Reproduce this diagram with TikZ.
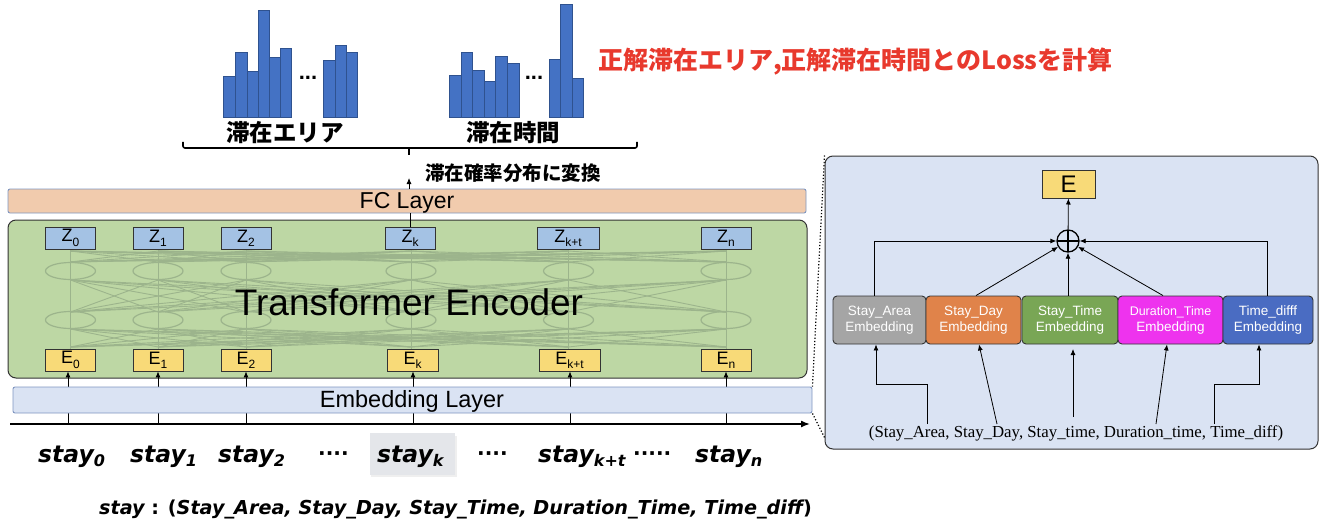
\documentclass[tikz,border=0pt]{standalone}
\usepackage{fontspec}
\setmainfont{Liberation Sans}
\newfontfamily\jpf{Noto Sans CJK JP}
\newfontfamily\dvf{DejaVu Sans}
\newfontfamily\serf{Liberation Serif}
\usetikzlibrary{arrows.meta,calc}
\definecolor{fcfill}{HTML}{F1CBAD}
\definecolor{layerborder}{HTML}{7F96C0}
\definecolor{encfill}{HTML}{BDD7A4}
\definecolor{zfill}{HTML}{A4C2E4}
\definecolor{efill}{HTML}{F8DA78}
\definecolor{embfill}{HTML}{DAE3F3}
\definecolor{netc}{HTML}{9CB48C}
\definecolor{redtxt}{HTML}{E8392D}
\definecolor{barfill}{HTML}{4472C4}
\definecolor{barline}{HTML}{2F528F}
\definecolor{cArea}{HTML}{A5A5A5}
\definecolor{cDay}{HTML}{E0834A}
\definecolor{cTime}{HTML}{79A655}
\definecolor{cDur}{HTML}{EE33EE}
\definecolor{cDiff}{HTML}{4A6CC2}
\definecolor{dark}{HTML}{333333}
\definecolor{stayk}{HTML}{E4E6EA}
\newcommand{\setfs}[1]{\fontsize{#1}{#1}\selectfont}
\newcommand{\zsub}[1]{\raisebox{-0.45ex}{\setfs{12}#1}}
\newcommand{\ssub}[1]{\raisebox{-0.35ex}{\setfs{16}#1}}
\tikzset{
  bar/.style={fill=barfill, draw=barline, line width=0.8pt},
  layerbox/.style={draw=layerborder, line width=0.9pt, rounded corners=2pt, inner sep=0pt},
  zbox/.style={draw=dark, fill=zfill, line width=0.9pt, minimum height=22pt, inner sep=0pt, font={\setfs{18}}},
  ebox/.style={draw=dark, fill=efill, line width=0.9pt, minimum height=22pt, inner sep=0pt, font={\setfs{18}}},
  net/.style={draw=netc, line width=0.9pt},
  netE/.style={draw=netc, line width=1.2pt},
  arr/.style={-{Latex[length=6pt,width=5pt]}, line width=0.8pt},
  staylab/.style={anchor=base west, inner sep=0pt, font={\dvf\bfseries\itshape\setfs{23.5}}},
  dotlab/.style={anchor=base west, inner sep=0pt, font={\dvf\bfseries\setfs{20}}},
  embx/.style={draw=dark, line width=0.9pt, rounded corners=4pt, minimum height=48pt, inner sep=0pt, text=white, align=center, font={\fontsize{13.5}{16}\selectfont}},
  jpbold/.style={font={\jpf\bfseries\setfs{#1}}, inner sep=0pt}
}
\begin{document}
\begin{tikzpicture}[x=1pt,y=-1pt]
\useasboundingbox (0,0) rectangle (1322,524);
% ---------- histograms ----------
\foreach \l/\r/\t in {223.1/235.7/76, 235.7/247.5/52, 247.5/258.8/71, 258.8/269.8/10, 269.8/280.7/57, 280.7/291.7/48,
  323.2/335.4/60, 335.4/346.8/45, 346.8/357.7/52,
  449.5/461.3/75, 461.3/472.6/52, 472.6/484.0/70, 484.0/495.8/81, 495.8/507.6/56, 507.6/519.8/63,
  549.2/560.6/59, 560.6/572.4/4, 572.4/583.8/78}
  \draw[bar] (\l,117) rectangle (\r,\t);
\node[anchor=base, inner sep=0pt, font={\bfseries\setfs{22}}] (dots1) at (308,80) {...};
\node[anchor=base, inner sep=0pt, font={\bfseries\setfs{22}}] (dots2) at (534,80) {...};
\node[jpbold=23.5] (lblA) at (285,133) {滞在エリア};
\node[jpbold=23.5] (lblT) at (513,133) {滞在時間};
\draw[line width=1.6pt, rounded corners=2pt] (183,142) -- (183,148) -- (637,148) -- (637,142);
\draw[line width=1.6pt] (409,148) -- (409,155);
\node[jpbold=25, text=redtxt, anchor=west] (loss) at (598,62) {正解滞在エリア,正解滞在時間とのLossを計算};
\node[jpbold=19.5, anchor=west] (conv) at (425,173) {滞在確率分布に変換};
% ---------- FC layer ----------
\node[layerbox, fill=fcfill, minimum width=798pt, minimum height=24pt] (fc) at (407,201) {};
\node[inner sep=0pt, font={\setfs{23}}] (fct) at (407,203) {FC Layer};
\coordinate (fcout) at (409,178);
\draw[arr] (fc.north -| fcout) -- (fcout);
% ---------- Transformer encoder ----------
\node[draw=dark, fill=encfill, line width=1pt, rounded corners=8pt, minimum width=799pt, minimum height=158pt, inner sep=0pt] (enc) at (407.5,299) {};
\foreach \a in {70.5,158,246,411,568.5,726} {
  \foreach \b in {70.5,158,246,411,568.5,726} {
    \draw[net] (\a,251) -- (\b,262);
    \draw[net] (\a,280) -- (\b,312);
    \draw[net] (\a,329) -- (\b,347);
  }
  \draw[net] (\a,249) -- (\a,349);
  \draw[netE] (\a,271) ellipse [x radius=25pt, y radius=8.5pt];
  \draw[netE] (\a,320) ellipse [x radius=25pt, y radius=8.5pt];
}
\node[inner sep=0pt, font={\setfs{37}}] (enct) at (409,302) {Transformer Encoder};
% Z and E boxes
\node[zbox, minimum width=50pt] (z0) at (70.5,238) {Z\zsub{0}};
\node[zbox, minimum width=50pt] (z1) at (158,238) {Z\zsub{1}};
\node[zbox, minimum width=50pt] (z2) at (246,238) {Z\zsub{2}};
\node[zbox, minimum width=50pt] (zk) at (410,238) {Z\zsub{k}};
\node[zbox, minimum width=62pt] (zkt) at (568,238) {Z\zsub{k+t}};
\node[zbox, minimum width=50pt] (zn) at (726,238) {Z\zsub{n}};
\node[ebox, minimum width=50pt] (e0) at (70.5,360) {E\zsub{0}};
\node[ebox, minimum width=50pt] (e1) at (158,360) {E\zsub{1}};
\node[ebox, minimum width=50pt] (e2) at (246,360) {E\zsub{2}};
\node[ebox, minimum width=51pt] (ek) at (412.5,360) {E\zsub{k}};
\node[ebox, minimum width=61pt] (ekt) at (569.5,360) {E\zsub{k+t}};
\node[ebox, minimum width=50pt] (en) at (726,360) {E\zsub{n}};
\draw[line width=0.8pt] (zk.north) -- (zk.north |- fc.south);
% axis and inputs
\coordinate (axL) at (10,424);
\coordinate (axR) at (810,424);
\foreach \n/\x in {e0/68, e1/158, e2/246, ek/413, ekt/570, en/726} {
  \coordinate (t\n) at (\x,424);
  \draw[arr] (t\n) -- (\n.south -| t\n);
}
\node[layerbox, fill=embfill, minimum width=799pt, minimum height=26pt] (emb) at (412.5,400) {};
\node[inner sep=0pt, font={\setfs{23.5}}] (embt) at (412,401) {Embedding Layer};
\draw[-{Latex[length=9pt,width=7pt]}, line width=1.5pt] (axL) -- (axR);
% stay labels
\fill[black!10, opacity=0.6] (371,436) rectangle (457,477);
\node[fill=stayk, minimum width=85pt, minimum height=42pt, inner sep=0pt] (skbox) at (412.5,454) {};
\node[staylab] (s0) at (38,462) {stay\ssub{0}};
\node[staylab] (s1) at (130,462) {stay\ssub{1}};
\node[staylab] (s2) at (218,462) {stay\ssub{2}};
\node[dotlab] (d1) at (318,460) {····};
\node[staylab] (sk) at (377,462) {stay\ssub{k}};
\node[dotlab] (d2) at (477,460) {····};
\node[staylab] (skt) at (538,462) {stay\ssub{k+t}};
\node[dotlab] (d3) at (633,460) {·····};
\node[staylab] (sn) at (695,462) {stay\ssub{n}};
\node[anchor=base west, inner sep=0pt, font={\dvf\bfseries\setfs{19.2}}] (def) at (99,514)
  {\itshape stay\upshape\ : (\itshape Stay\_Area, Stay\_Day, Stay\_Time, Duration\_Time, Time\_diff\upshape)};
% ---------- right panel ----------
\node[draw=dark, fill=embfill, line width=1pt, rounded corners=8pt, minimum width=493pt, minimum height=293pt, inner sep=0pt] (panel) at (1071.5,302.5) {};
\draw[dotted, line width=1.2pt] (panel.north west) -- (emb.north east);
\draw[dotted, line width=1.2pt] (emb.south east) -- ($(panel.south west)+(0,-12)$);
\node[draw=dark, fill=efill, line width=1pt, minimum width=53pt, minimum height=28pt, inner sep=0pt, font={\setfs{24}}] (E) at (1068.5,184) {E};
\node[draw=black, circle, line width=1.3pt, minimum size=22pt, inner sep=0pt,
  path picture={\draw[line width=1.6pt] (path picture bounding box.north) -- (path picture bounding box.south)
   (path picture bounding box.west) -- (path picture bounding box.east);}] (plus) at (1068,241) {};
\node[embx, fill=cArea, minimum width=93pt] (area) at (879.5,320) {Stay\_Area\\Embedding};
\node[embx, fill=cDay, minimum width=95pt] (day) at (973.5,320) {Stay\_Day\\Embedding};
\node[embx, fill=cTime, minimum width=96pt] (time) at (1070,320) {Stay\_Time\\Embedding};
\node[embx, fill=cDur, minimum width=105pt] (dur) at (1170.5,320) {{\fontsize{12.5}{16}\selectfont Duration\_Time}\\Embedding};
\node[embx, fill=cDiff, minimum width=90pt] (diff) at (1268,320) {Time\_difff\\Embedding};
\draw[arr] (plus) -- (E);
\draw[arr] ($(area.north)+(-5.5,0)$) |- (plus.west);
\draw[arr] ($(day.north)+(2.5,0)$) -- (plus);
\draw[arr] (plus.south |- time.north) -- (plus.south);
\draw[arr] ($(dur.north)+(-7.5,0)$) -- (plus);
\draw[arr] ($(diff.north)+(-1,0)$) |- (plus.east);
\node[inner sep=0pt, font={\serf\setfs{16.8}}] (inp) at (1076,433) {(Stay\_Area, Stay\_Day, Stay\_time, Duration\_time, Time\_diff)};
\coordinate (iA) at (927,424);
\coordinate (iD) at (997,424);
\coordinate (iT) at (1073,417);
\coordinate (iU) at (1156,424);
\coordinate (iF) at (1214,424);
\draw[arr] (iA) -- (927,384) -| ($(area.south)+(-3.5,0)$);
\draw[arr] (iD) -- ($(day.south)+(5.5,0)$);
\draw[arr] (iT) -- (1073,349);
\draw[arr] (iU) -- ($(dur.south)+(-3.5,0)$);
\draw[arr] (iF) -- (1214,384) -| ($(diff.south)+(-9,0)$);
\end{tikzpicture}
\end{document}
